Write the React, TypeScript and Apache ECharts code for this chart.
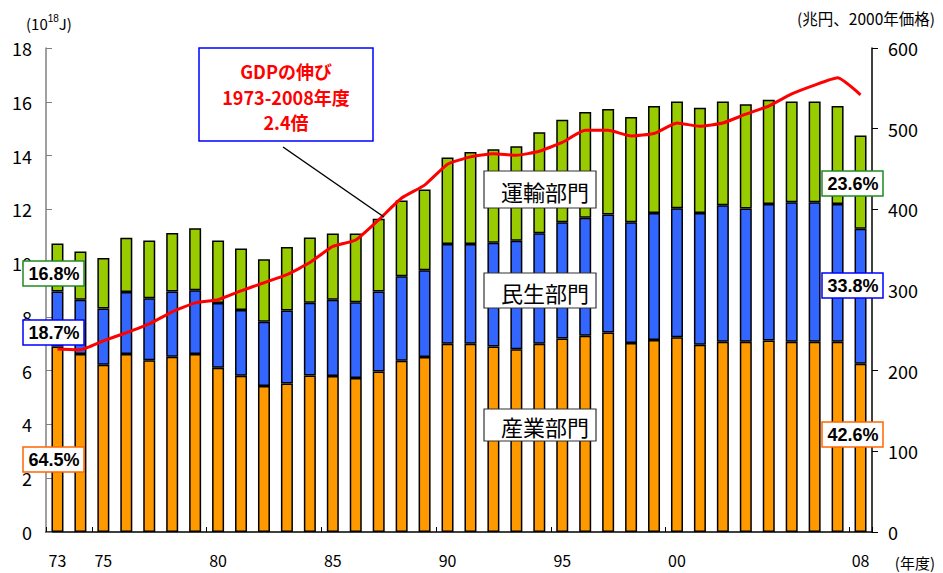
import React, { useEffect, useRef } from "react";
import * as echarts from "echarts";

const years = [
  "1973","1974","1975","1976","1977","1978","1979","1980","1981","1982","1983","1984",
  "1985","1986","1987","1988","1989","1990","1991","1992","1993","1994","1995","1996",
  "1997","1998","1999","2000","2001","2002","2003","2004","2005","2006","2007","2008",
];
const shownYears = ["1973", "1975", "1980", "1985", "1990", "1995", "2000", "2008"];

// 10^18 J, stacked segments
const industry = [
  6.90, 6.62, 6.22, 6.62, 6.39, 6.52, 6.62, 6.11, 5.81, 5.43, 5.52, 5.82,
  5.80, 5.73, 5.97, 6.37, 6.51, 7.00, 7.00, 6.90, 6.80, 7.00, 7.20, 7.30,
  7.42, 7.03, 7.14, 7.24, 6.96, 7.08, 7.08, 7.12, 7.08, 7.08, 7.08, 6.26,
];
const civil = [
  2.04, 2.02, 2.09, 2.31, 2.30, 2.42, 2.37, 2.41, 2.45, 2.39, 2.72, 2.71,
  2.84, 2.81, 2.97, 3.14, 3.22, 3.71, 3.71, 3.86, 4.03, 4.11, 4.32, 4.39,
  4.39, 4.49, 4.72, 4.80, 4.90, 5.07, 4.95, 5.08, 5.18, 5.18, 5.12, 5.02,
];
const transport = [
  1.79, 1.79, 1.88, 2.01, 2.15, 2.18, 2.31, 2.32, 2.28, 2.32, 2.36, 2.42,
  2.46, 2.56, 2.71, 2.82, 3.01, 3.22, 3.42, 3.47, 3.52, 3.76, 3.81, 3.93,
  3.92, 3.91, 3.98, 3.97, 3.92, 3.86, 3.88, 3.88, 3.75, 3.75, 3.64, 3.47,
];
// 兆円 (2000年価格)
const gdp = [
  227, 226, 237, 247, 258, 273, 284, 288, 299, 309, 319, 334,
  354, 362, 387, 414, 430, 456, 465, 469, 467, 472, 483, 498,
  498, 491, 494, 507, 503, 507, 518, 528, 543, 554, 563, 542,
];

const leftTicks = [0, 18, 2];
const rightTicks = [0, 600, 100];

const seriesNames = ["産業部門", "民生部門", "運輸部門", "GDP"];
const shareStart = ["64.5%", "18.7%", "16.8%"];
const shareEnd = ["42.6%", "33.8%", "23.6%"];
const gdpNote = ["GDPの伸び", "1973-2008年度", "2.4倍"];

const JP = "'Noto Sans CJK JP', 'Noto Sans', sans-serif";
const AR = "'Liberation Sans', Arial, sans-serif";

function pctBox(x: number, y: number, text: string, border: string) {
  return {
    type: "group",
    z: 100,
    children: [
      {
        type: "rect",
        shape: { x, y, width: 61, height: 25 },
        style: { fill: "#fff", stroke: border, lineWidth: 1.5 },
        z: 100,
      },
      {
        type: "text",
        x: x + 31,
        y: y + 13,
        style: {
          text,
          fill: "#000",
          font: `bold 18px ${AR}`,
          align: "center",
          verticalAlign: "middle",
        },
        z: 101,
      },
    ],
  };
}

function sectorBox(y: number, h: number, text: string) {
  return {
    type: "group",
    z: 100,
    children: [
      {
        type: "rect",
        shape: { x: 484, y, width: 112, height: h },
        style: { fill: "#fff", stroke: "#333", lineWidth: 1.2 },
        z: 100,
      },
      {
        type: "text",
        x: 545,
        y: y + h / 2 + 1,
        style: {
          text,
          fill: "#000",
          font: `22px ${JP}`,
          align: "center",
          verticalAlign: "middle",
        },
        z: 101,
      },
    ],
  };
}

export default function App() {
  const ref = useRef<HTMLDivElement>(null);
  useEffect(() => {
    if (!ref.current) return;
    const chart = echarts.init(ref.current, undefined, { renderer: "svg" });
    const barStyle = (color: string) => ({
      color,
      borderColor: "#000",
      borderWidth: 1.5,
    });
    const option: any = {
      animation: false,
      backgroundColor: "#fff",
      grid: { left: 46, right: 71, top: 48, bottom: 41, containLabel: false },
      xAxis: {
        type: "category",
        data: years,
        boundaryGap: true,
        axisLine: { lineStyle: { color: "#000", width: 1.5 } },
        axisTick: { show: true, inside: true, length: 5, lineStyle: { color: "#000" } },
        axisLabel: {
          interval: (_i: number, v: string) => shownYears.indexOf(v) >= 0,
          formatter: (v: string) => v.slice(2),
          color: "#000",
          fontSize: 16,
          fontFamily: JP,
          margin: 20,
        },
      },
      yAxis: [
        {
          type: "value",
          min: leftTicks[0],
          max: leftTicks[1],
          interval: leftTicks[2],
          splitLine: { show: false },
          axisLine: { show: true, lineStyle: { color: "#808080", width: 1.5 } },
          axisTick: { show: true, inside: true, length: 6, lineStyle: { color: "#808080" } },
          axisLabel: { color: "#000", fontSize: 18, fontFamily: JP, margin: 14 },
        },
        {
          type: "value",
          min: rightTicks[0],
          max: rightTicks[1],
          interval: rightTicks[2],
          position: "right",
          splitLine: { show: false },
          axisLine: { show: true, lineStyle: { color: "#000", width: 1.5 } },
          axisTick: { show: true, inside: false, length: 6, lineStyle: { color: "#000" } },
          axisLabel: { color: "#000", fontSize: 18, fontFamily: JP, margin: 16 },
        },
      ],
      series: [
        {
          name: seriesNames[0],
          type: "bar",
          stack: "e",
          data: industry,
          barWidth: 12,
          itemStyle: barStyle("#FF9900"),
        },
        {
          name: seriesNames[1],
          type: "bar",
          stack: "e",
          data: civil,
          barWidth: 12,
          itemStyle: barStyle("#3366FF"),
        },
        {
          name: seriesNames[2],
          type: "bar",
          stack: "e",
          data: transport,
          barWidth: 12,
          itemStyle: barStyle("#99CC00"),
        },
        {
          name: seriesNames[3],
          type: "line",
          yAxisIndex: 1,
          data: gdp,
          smooth: 0.15,
          symbol: "none",
          lineStyle: { color: "#FF0000", width: 3 },
          z: 5,
        },
      ],
      graphic: [
        {
          type: "text",
          x: 26,
          y: 23,
          style: {
            text: "(10{s|18}J)",
            rich: { s: { fontSize: 10, verticalAlign: "top", padding: [0, 0, 9, 0] } },
            fill: "#000",
            font: `15px ${JP}`,
            verticalAlign: "middle",
          },
        },
        {
          type: "text",
          x: 935,
          y: 18,
          style: {
            text: "(兆円、2000年価格)",
            fill: "#000",
            font: `15.5px ${JP}`,
            align: "right",
            verticalAlign: "middle",
          },
        },
        {
          type: "text",
          x: 935,
          y: 562,
          style: {
            text: "(年度)",
            fill: "#000",
            font: `15px ${JP}`,
            align: "right",
            verticalAlign: "middle",
          },
        },
        pctBox(23, 261, shareStart[2], "#1E8C1E"),
        pctBox(23, 320, shareStart[1], "#0000FF"),
        pctBox(23, 447, shareStart[0], "#FF6600"),
        pctBox(822, 171, shareEnd[2], "#1E8C1E"),
        pctBox(822, 273, shareEnd[1], "#0000FF"),
        pctBox(822, 422, shareEnd[0], "#FF6600"),
        sectorBox(171, 37, seriesNames[2]),
        sectorBox(273, 35, seriesNames[1]),
        sectorBox(409, 32, seriesNames[0]),
        {
          type: "line",
          shape: { x1: 283, y1: 147, x2: 384, y2: 217 },
          style: { stroke: "#000", lineWidth: 1.5 },
          z: 100,
        },
        {
          type: "rect",
          shape: { x: 199, y: 48, width: 174, height: 93 },
          style: { fill: "#fff", stroke: "#0000FF", lineWidth: 1.5 },
          z: 100,
        },
        {
          type: "text",
          x: 286,
          y: 71,
          style: { text: gdpNote[0], fill: "#FF0000", font: `bold 18px ${JP}`, align: "center", verticalAlign: "middle" },
          z: 101,
        },
        {
          type: "text",
          x: 286,
          y: 97,
          style: { text: gdpNote[1], fill: "#FF0000", font: `bold 18px ${JP}`, align: "center", verticalAlign: "middle" },
          z: 101,
        },
        {
          type: "text",
          x: 286,
          y: 122,
          style: { text: gdpNote[2], fill: "#FF0000", font: `bold 18px ${JP}`, align: "center", verticalAlign: "middle" },
          z: 101,
        },
      ],
    };
    chart.setOption(option);
    return () => chart.dispose();
  }, []);
  return (
    <div
      ref={ref}
      style={{ position: "fixed", left: 0, top: 0, width: 943, height: 573, background: "#fff" }}
    />
  );
}
